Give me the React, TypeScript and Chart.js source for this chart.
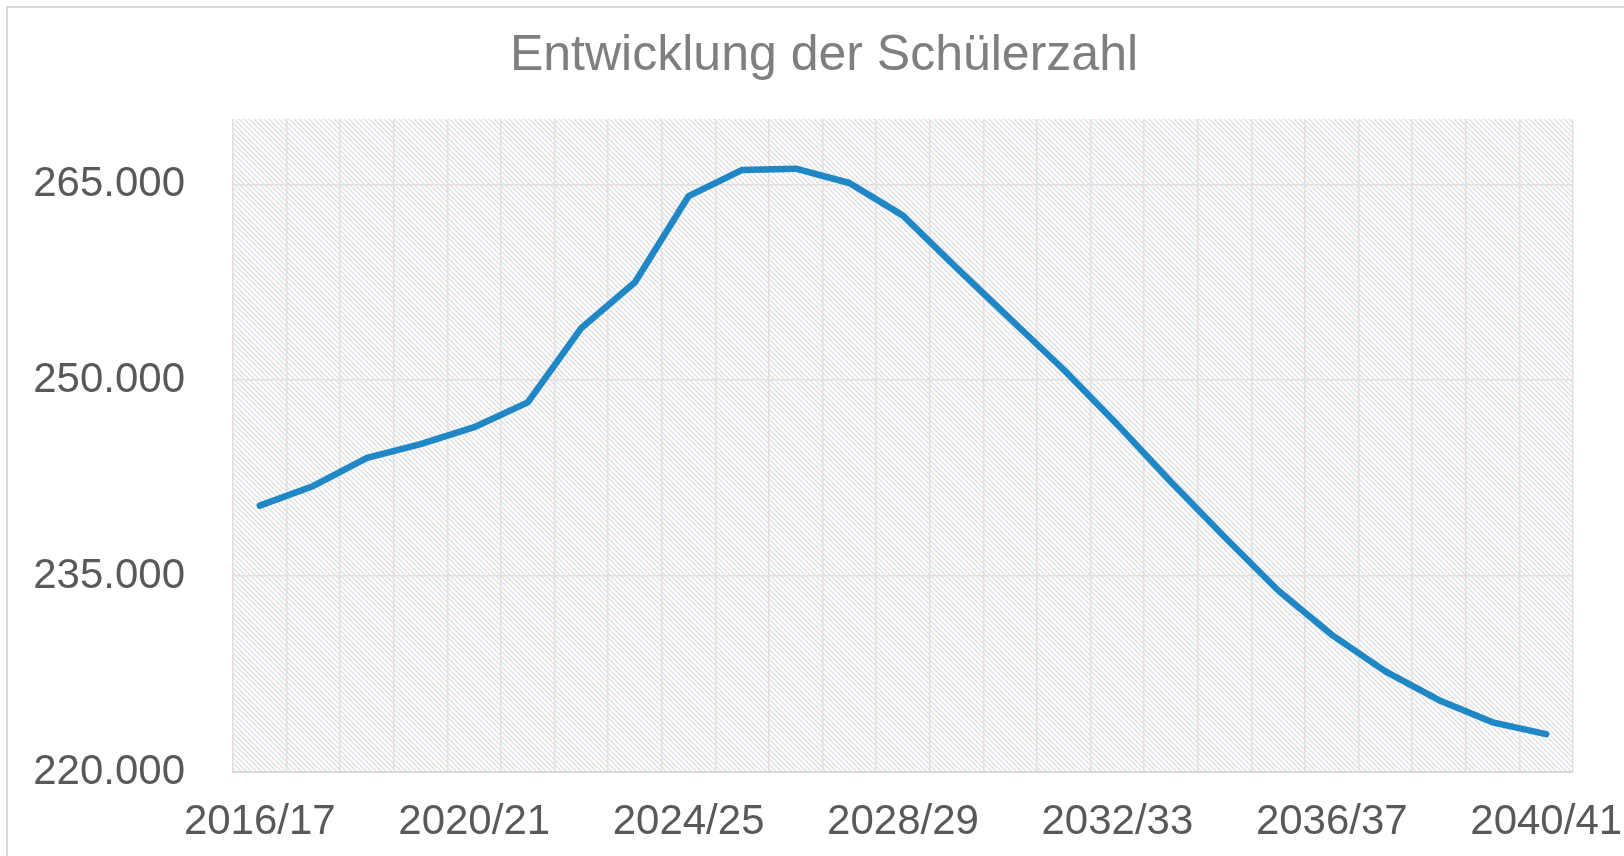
import React, { useEffect, useRef } from "react";
import { Chart, registerables } from "chart.js";

Chart.register(...registerables);

const categories = [
  "2016/17", "2017/18", "2018/19", "2019/20", "2020/21", "2021/22", "2022/23",
  "2023/24", "2024/25", "2025/26", "2026/27", "2027/28", "2028/29", "2029/30",
  "2030/31", "2031/32", "2032/33", "2033/34", "2034/35", "2035/36", "2036/37",
  "2037/38", "2038/39", "2039/40", "2040/41",
];

const schuelerzahl = [
  240400, 241900, 244050, 245100, 246400, 248300, 254000, 257500, 264100,
  266100, 266200, 265100, 262600, 258600, 254700, 250800, 246600, 242200,
  238000, 233900, 230500, 227700, 225500, 223800, 222900,
];

const yTicks = [220000, 235000, 250000, 265000];
const yMin = 220000;
const yMax = 270000;
const titleText = "Entwicklung der Schülerzahl";
const FONT = "'Liberation Sans', Arial, sans-serif";

function makePattern(ctx: CanvasRenderingContext2D) {
  const size = 10;
  const c = document.createElement("canvas");
  c.width = size;
  c.height = size;
  const p = c.getContext("2d")!;
  p.fillStyle = "#ffffff";
  p.fillRect(0, 0, size, size);
  const drawDiag = (offset: number, color: string) => {
    p.strokeStyle = color;
    p.lineWidth = 1.4;
    for (let k = -2; k <= 2; k++) {
      p.beginPath();
      p.moveTo(k * size + offset - 1, -1);
      p.lineTo(k * size + offset + size + 1, size + 1);
      p.stroke();
    }
  };
  drawDiag(0, "#d3e4f0");
  drawDiag(5, "#ebded9");
  return ctx.createPattern(c, "repeat");
}

const bgPlugin = {
  id: "bgPlugin",
  beforeDraw(chart: any) {
    const { ctx, chartArea } = chart;
    ctx.save();
    ctx.fillStyle = "#ffffff";
    ctx.fillRect(0, 0, chart.width, chart.height);
    ctx.strokeStyle = "#d9d9d9";
    ctx.lineWidth = 2;
    ctx.strokeRect(7, 7, chart.width + 20, chart.height + 20);
    const pat = makePattern(ctx);
    if (pat) {
      ctx.fillStyle = pat;
      ctx.fillRect(
        chartArea.left,
        chartArea.top,
        chartArea.right - chartArea.left,
        chartArea.bottom - chartArea.top
      );
    }
    ctx.restore();
  },
  afterDraw(chart: any) {
    const { ctx } = chart;
    ctx.save();
    ctx.fillStyle = "#7f7f7f";
    ctx.font = `50px ${FONT}`;
    ctx.textAlign = "center";
    ctx.textBaseline = "middle";
    ctx.fillText(titleText, 824, 56);
    ctx.restore();
  },
};

export default function App() {
  const ref = useRef<HTMLCanvasElement>(null);

  useEffect(() => {
    if (!ref.current) return;
    const chart = new Chart(ref.current, {
      type: "line",
      data: {
        labels: categories,
        datasets: [
          {
            label: "Schülerzahl",
            data: schuelerzahl,
            borderColor: "#1f87c6",
            backgroundColor: "#1f87c6",
            borderWidth: 6.5,
            borderCapStyle: "round",
            borderJoinStyle: "round",
            pointRadius: 0,
            tension: 0,
            fill: false,
          },
        ],
      },
      options: {
        animation: false,
        responsive: false,
        maintainAspectRatio: false,
        layout: { padding: { left: 0, right: 51, top: 119, bottom: 0 } },
        plugins: {
          legend: { display: false },
          tooltip: { enabled: false },
          title: { display: false },
        },
        scales: {
          x: {
            type: "category",
            offset: true,
            grid: {
              offset: true,
              color: "#e4dfdd",
              lineWidth: 1.5,
              drawTicks: false,
            },
            border: { display: true, color: "#d9d9d9", width: 2 },
            ticks: {
              autoSkip: false,
              maxRotation: 0,
              minRotation: 0,
              padding: 25,
              color: "#595959",
              font: { family: FONT, size: 42 },
              callback: (_v: any, i: number) => (i % 4 === 0 ? categories[i] : ""),
            },
            afterFit: (scale: any) => {
              scale.height = 84;
              scale.paddingLeft = 0;
              scale.paddingRight = 0;
            },
          },
          y: {
            min: yMin,
            max: yMax,
            grid: {
              color: "#e4dfdd",
              lineWidth: 1.5,
              drawTicks: false,
            },
            border: { display: false },
            ticks: {
              padding: 48,
              color: "#595959",
              font: { family: FONT, size: 42 },
              callback: (v: any) => Number(v).toLocaleString("de-DE"),
            },
            afterBuildTicks: (scale: any) => {
              scale.ticks = yTicks.map((v) => ({ value: v }));
            },
            afterFit: (scale: any) => {
              scale.width = 233;
              scale.paddingTop = 0;
              scale.paddingBottom = 0;
            },
          },
        },
      },
      plugins: [bgPlugin],
    });
    return () => chart.destroy();
  }, []);

  return (
    <div style={{ position: "fixed", left: 0, top: 0, width: 1624, height: 856, overflow: "hidden" }}>
      <canvas ref={ref} width={1624} height={856} style={{ display: "block", width: 1624, height: 856 }} />
    </div>
  );
}
